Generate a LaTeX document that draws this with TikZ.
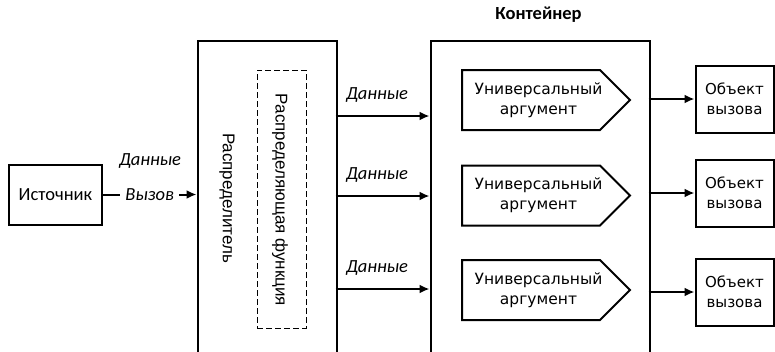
\documentclass[tikz,border=0pt]{standalone}
\usepackage{fontspec}
\setmainfont{Carlito}
\newfontfamily\boxfont{DejaVu Sans}
\newfontfamily\sidefont{Liberation Sans}
\usetikzlibrary{arrows.meta}
\begin{document}
\begin{tikzpicture}[x=1pt,y=-1pt,
  box/.style={draw,line width=2pt,inner sep=0pt},
  arr/.style={line width=2pt,-{Latex[length=10pt,width=9pt]}},
  lbl/.style={font=\fontsize{18.5}{20}\selectfont\itshape,inner sep=0pt},
  ua/.style={font=\boxfont\fontsize{15.5}{20}\selectfont,align=center,inner sep=0pt},
  ob/.style={box,font=\boxfont\fontsize{15}{20}\selectfont,align=center,minimum width=78pt,minimum height=67pt}]
\clip (0,0) rectangle (775,351);
\fill[white] (0,0) rectangle (775,351);

% source
\node[box,minimum width=93pt,minimum height=60pt,font=\fontsize{18.5}{20}\selectfont] (src) at (55.5,194.5) {Источник};

% distributor with its dispatch function
\node[box,minimum width=139pt,minimum height=340pt,anchor=north west] (dist) at (196.5,39.5) {};
\node[rotate=-90,font=\sidefont\fontsize{17}{19}\selectfont] (distlbl) at (227,198) {Распределитель};
\node[draw,line width=1pt,dash pattern=on 6pt off 3pt,minimum width=49pt,minimum height=258pt,inner sep=0pt] (fn) at (281.5,199) {};
\node[rotate=-90,font=\sidefont\fontsize{17}{19}\selectfont] (fnlbl) at (280,200) {Распределяющая функция};

% container
\node[box,minimum width=219pt,minimum height=340pt,anchor=north west] (cont) at (429.5,39.5) {};
\node[font=\bfseries\fontsize{18.5}{20}\selectfont,inner sep=0pt] (contlbl) at (538.5,15) {Контейнер};

% source to distributor
\draw[arr] (src.east) -- node[fill=white,lbl,inner xsep=5pt,inner ysep=2pt] (call) {Вызов} (src.east -| dist.west);
\node[lbl] (data0) at (150,161) {Данные};

% universal arguments and callable objects
\foreach \i/\yy/\ya/\yo in {1/100/116/99, 2/195.5/196/193, 3/290/289/292}{
  \draw[line width=2pt,fill=white] (462,\yy-30) -- (600,\yy-30) -- (630,\yy) -- (600,\yy+30) -- (462,\yy+30) -- cycle;
  \node[ua] (ua\i) at (538.5,\yy) {Универсальный\\аргумент};
  \coordinate (din\i) at (429.5,\ya);
  \coordinate (dout\i) at (335.5,\ya);
  \draw[arr] (dout\i) -- (din\i);
  \node[lbl] (data\i) at (377,\ya-21) {Данные};
  \node[ob] (obj\i) at (734.5,\yo) {Объект\\вызова};
  \draw[arr] (648.5,\yo) -- (obj\i.west);
}
\end{tikzpicture}
\end{document}
